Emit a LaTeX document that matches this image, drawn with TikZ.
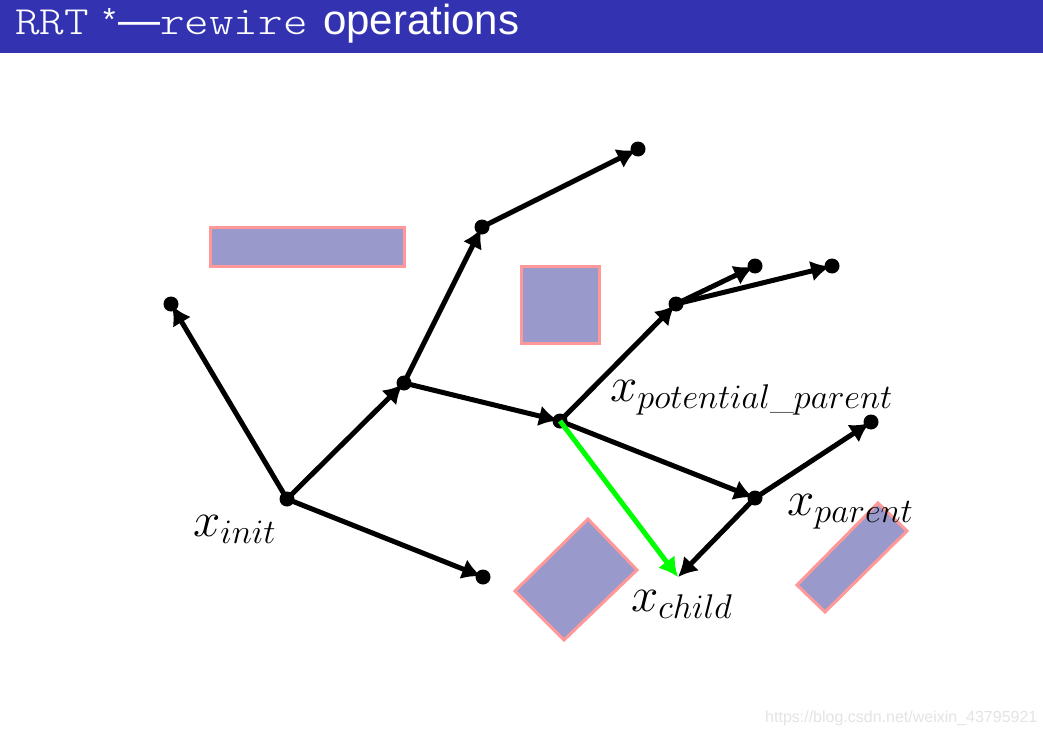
\documentclass[tikz,border=0pt]{standalone}
\usepackage{fix-cm}
\usepackage{amsmath}
\usepackage{fontspec}
\usetikzlibrary{arrows.meta}
\newfontfamily\titlesans{Liberation Sans}
\newfontfamily\titlemono[FakeStretch=1.17]{lmmonolt10-regular.otf}
\definecolor{titleblue}{RGB}{51,51,178}
\definecolor{obsfill}{RGB}{153,153,204}
\definecolor{obsdraw}{RGB}{255,153,153}
\definecolor{rewiregreen}{RGB}{0,255,0}
\definecolor{wmgray}{RGB}{228,228,228}
\begin{document}
\begin{tikzpicture}[x=1pt,y=-1pt,
  edge/.style={line width=5pt,-{Latex[length=19pt,width=21pt]},shorten >=2pt},
  childedge/.style={edge,shorten >=0pt},
  greenedge/.style={childedge,draw=rewiregreen},
  dot/.style={circle,fill=black,inner sep=0pt,minimum size=15pt},
  obstacle/.style={fill=obsfill,draw=obsdraw,line width=3pt},
  lbl/.style={inner sep=0pt,anchor=base west,font=\fontsize{49}{58}\selectfont},
  titlepiece/.style={inner sep=0pt,anchor=base west,text=white,font=\fontsize{42}{50}\selectfont\titlesans},
  monopiece/.style={titlepiece,font=\fontsize{40}{48}\selectfont\titlemono},
  watermark/.style={inner sep=0pt,anchor=base west,text=wmgray,font=\fontsize{16}{19}\selectfont\titlesans}]
\useasboundingbox (0,0) rectangle (1043,733);
\fill[white] (0,0) rectangle (1043,733);
% title bar
\fill[titleblue] (0,0) rectangle (1043,53);
\node[monopiece] (trrt) at (15,35) {RRT};
\node[titlepiece,font=\fontsize{32}{38}\selectfont\titlesans] (tstar) at (103,31) {*};
\node[titlepiece] (tdash) at (118,35) {—};
\node[monopiece] (trewire) at (160,35) {rewire};
\node[titlepiece] (tops) at (323,35) {operations};
% obstacles
\draw[obstacle] (210,227) rectangle (404,266);
\draw[obstacle] (521,266) rectangle (599,343);
\draw[obstacle] (588,519) -- (637,570) -- (564,640) -- (515,591) -- cycle;
\draw[obstacle] (878,503) -- (907,531) -- (825,612) -- (797,585) -- cycle;
% tree nodes
\node[dot] (init) at (287,499) {};
\node[dot] (a) at (171,304) {};
\node[dot] (b) at (404,383) {};
\node[dot] (c) at (482,227) {};
\node[dot] (d) at (638,149) {};
\node[dot] (e) at (483,577) {};
\node[dot] (p) at (560,421) {};
\node[dot] (f) at (676,304) {};
\node[dot] (g) at (755,266) {};
\node[dot] (h) at (832,266) {};
\node[dot] (par) at (755,498) {};
\node[dot] (i) at (871,422) {};
\coordinate (child) at (678,577);
% edges
\draw[edge] (init.center) -- (a.center);
\draw[edge] (init.center) -- (b.center);
\draw[edge] (init.center) -- (e.center);
\draw[edge] (b.center) -- (c.center);
\draw[edge] (c.center) -- (d.center);
\draw[edge] (b.center) -- (p.center);
\draw[edge] (p.center) -- (f.center);
\draw[edge] (f.center) -- (g.center);
\draw[edge] (f.center) -- (h.center);
\draw[edge] (p.center) -- (par.center);
\draw[edge] (par.center) -- (i.center);
\draw[childedge] (par.center) -- (child);
\draw[greenedge] (p.center) -- (child);
% labels
\node[lbl] (linit) at (193,536) {$x_{init}$};
\node[lbl] (lpp) at (610,401) {$x_{potential\text{\_}parent}$};
\node[lbl] (lpar) at (787,515) {$x_{parent}$};
\node[lbl] (lchild) at (631,611) {$x_{child}$};
\node[watermark] (wm) at (765,722) {https://blog.csdn.net/weixin\_43795921};
\end{tikzpicture}
\end{document}
